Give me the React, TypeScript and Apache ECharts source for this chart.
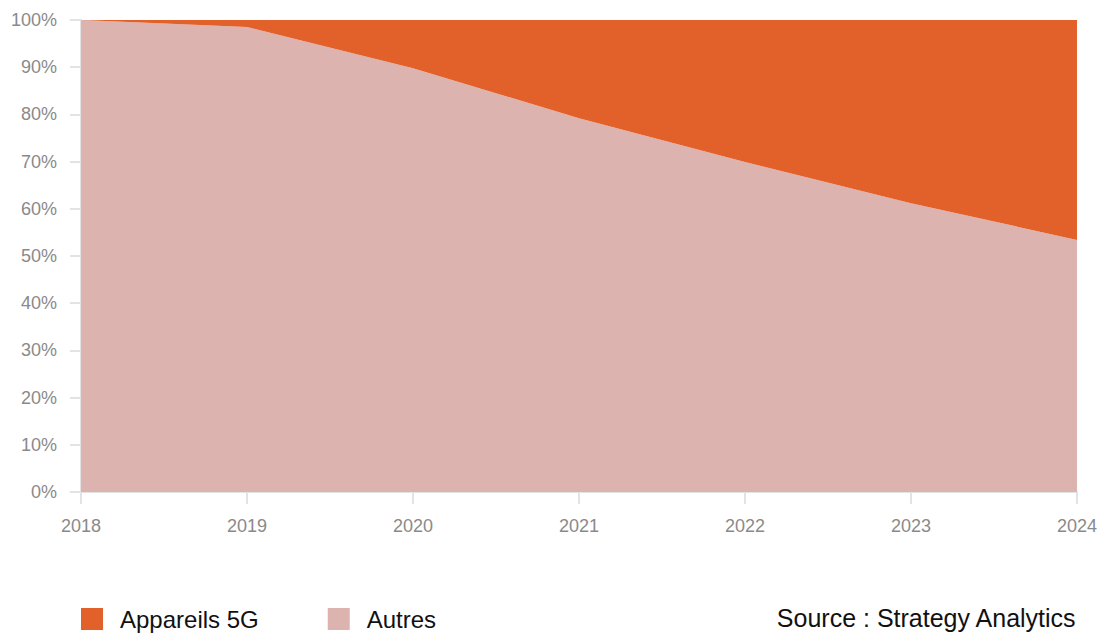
import React, { useEffect, useRef } from "react";
import * as echarts from "echarts";

const years = ["2018", "2019", "2020", "2021", "2022", "2023", "2024"];
const autres = [100, 98.5, 89.8, 79.2, 69.9, 61.2, 53.4];
const appareils5G = [0, 1.5, 10.2, 20.8, 30.1, 38.8, 46.6];
const seriesNames = ["Appareils 5G", "Autres"];
const sourceText = "Source : Strategy Analytics";

const FONT = "Liberation Sans, Arial, Helvetica, sans-serif";
const C5G = "#E2602A";
const CAUTRES = "#DCB3AF";

export default function App() {
  const ref = useRef<HTMLDivElement>(null);
  useEffect(() => {
    if (!ref.current) return;
    const chart = echarts.init(ref.current, undefined, { renderer: "svg" });
    chart.setOption({
      animation: false,
      backgroundColor: "#fff",
      grid: { left: 81, right: 23, top: 20, bottom: 141, containLabel: false },
      legend: {
        data: seriesNames,
        left: 81,
        top: 607,
        padding: 0,
        icon: "rect",
        itemWidth: 22,
        itemHeight: 22,
        itemGap: 69,
        selectedMode: false,
        textStyle: {
          fontFamily: FONT,
          fontSize: 24,
          color: "#111",
          padding: [0, 0, 0, 12],
        },
      },
      xAxis: {
        type: "category",
        data: years,
        boundaryGap: false,
        axisLine: { show: true, lineStyle: { color: "#e3e3e3", width: 2 } },
        axisTick: { show: true, length: 12, lineStyle: { color: "#e3e3e3", width: 2 } },
        axisLabel: { color: "#8a8a8a", fontSize: 18, fontFamily: FONT, margin: 25 },
        splitLine: { show: false },
      },
      yAxis: {
        type: "value",
        min: 0,
        max: 100,
        interval: 10,
        axisLine: { show: true, lineStyle: { color: "#e3e3e3", width: 2 } },
        axisTick: { show: true, length: 11, lineStyle: { color: "#e3e3e3", width: 2 } },
        axisLabel: {
          color: "#8a8a8a",
          fontSize: 18,
          fontFamily: FONT,
          margin: 24,
          formatter: "{value}%",
        },
        splitLine: { show: false },
      },
      series: [
        {
          name: "Autres",
          type: "line",
          stack: "total",
          data: autres,
          symbol: "none",
          lineStyle: { width: 0 },
          itemStyle: { color: CAUTRES },
          areaStyle: { color: CAUTRES, opacity: 1 },
          z: 2,
        },
        {
          name: "Appareils 5G",
          type: "line",
          stack: "total",
          data: appareils5G,
          symbol: "none",
          lineStyle: { width: 0 },
          itemStyle: { color: C5G },
          areaStyle: { color: C5G, opacity: 1 },
          z: 2,
        },
      ],
      graphic: [
        {
          type: "text",
          right: 23,
          top: 605,
          style: {
            text: sourceText,
            fontFamily: FONT,
            fontSize: 25,
            fill: "#111",
          },
        },
      ],
    });
    return () => chart.dispose();
  }, []);
  return <div ref={ref} style={{ width: 1100, height: 633, position: "absolute", left: 0, top: 0 }} />;
}
